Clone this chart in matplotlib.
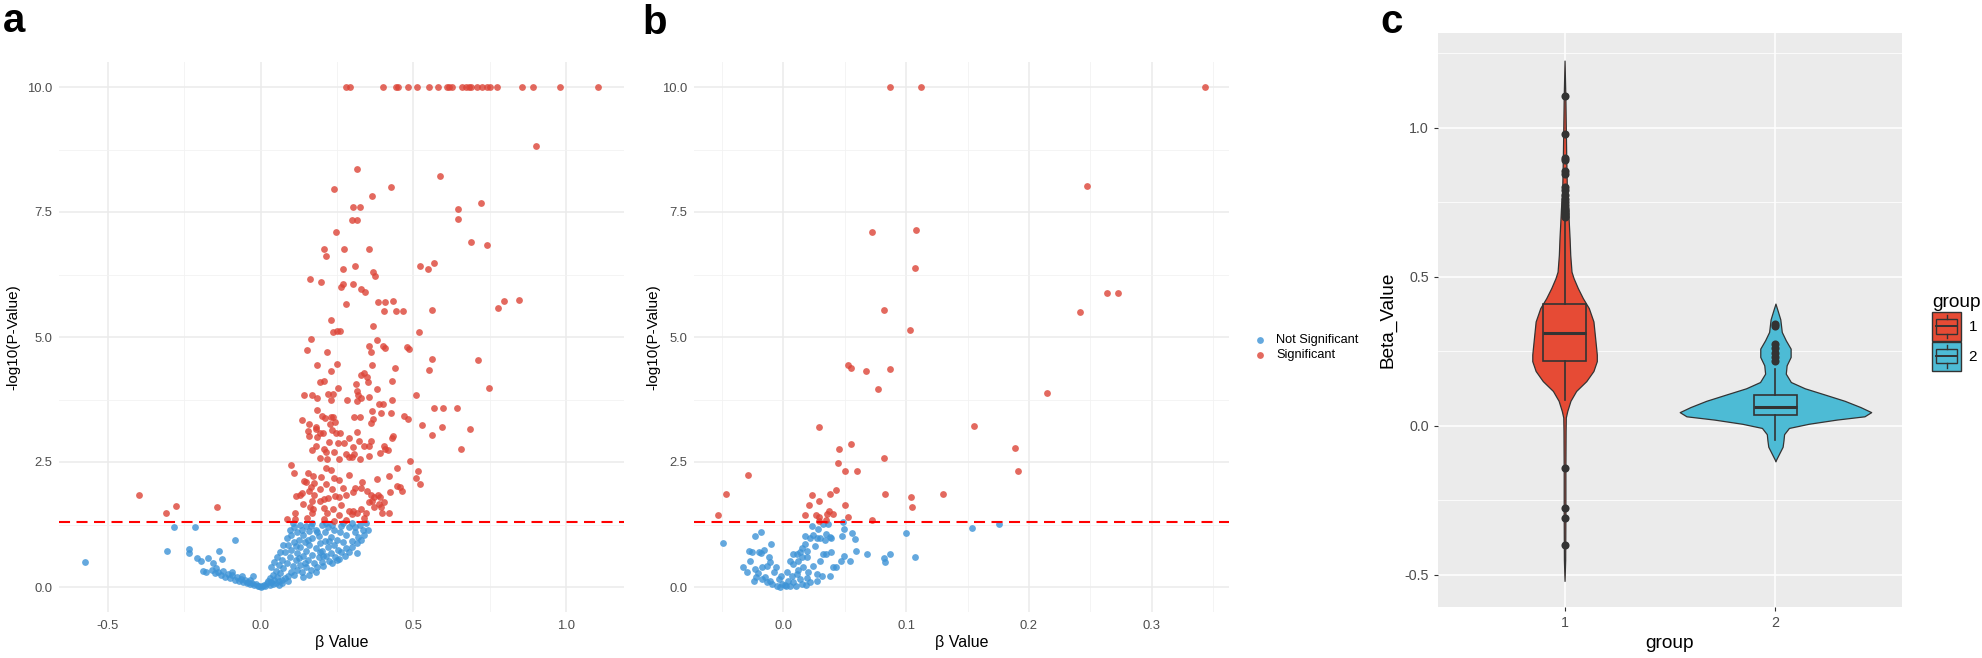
import numpy as np
import matplotlib
matplotlib.use("Agg")
import matplotlib.pyplot as plt
from matplotlib.patches import Patch, Rectangle
from matplotlib.lines import Line2D
from matplotlib.legend_handler import HandlerBase

plt.rcParams["font.family"] = ["Liberation Sans", "DejaVu Sans"]

# ---- panel a: (beta, -log10 p) ----
a_sig = [
    (0.280, 10.0), (0.293, 10.0), (0.402, 10.0), (0.442, 10.0), (0.449, 10.0), (0.483, 10.0), (0.511, 10.0),
    (0.550, 10.0), (0.580, 10.0), (0.610, 10.0), (0.618, 10.0), (0.628, 10.0), (0.660, 10.0), (0.673, 10.0),
    (0.683, 10.0), (0.690, 10.0), (0.708, 10.0), (0.725, 10.0), (0.743, 10.0), (0.752, 10.0), (0.773, 10.0),
    (0.855, 10.0), (0.893, 10.0), (0.979, 10.0), (1.106, 10.0),
    (0.901, 8.83), (0.317, 8.36), (0.588, 8.23), (0.240, 7.97), (0.428, 8.00), (0.364, 7.82), (0.722, 7.69),
    (0.303, 7.61), (0.325, 7.61), (0.645, 7.57), (0.298, 7.35), (0.315, 7.35), (0.645, 7.36), (0.248, 7.10),
    (0.690, 6.91), (0.742, 6.84), (0.208, 6.76), (0.274, 6.76), (0.355, 6.77), (0.215, 6.63), (0.523, 6.42),
    (0.567, 6.49), (0.548, 6.36), (0.270, 6.37), (0.309, 6.43), (0.368, 6.31), (0.375, 6.22), (0.161, 6.16),
    (0.198, 6.11), (0.264, 6.01), (0.269, 6.06), (0.303, 6.06), (0.328, 5.96), (0.342, 5.90), (0.281, 5.66),
    (0.384, 5.70), (0.408, 5.70), (0.435, 5.73), (0.404, 5.52), (0.445, 5.53), (0.466, 5.53), (0.562, 5.55),
    (0.777, 5.59), (0.798, 5.73), (0.847, 5.75), (0.229, 5.35), (0.237, 5.11), (0.249, 5.13), (0.259, 5.13),
    (0.369, 5.22), (0.519, 5.11), (0.165, 4.97), (0.153, 4.74), (0.216, 4.70), (0.380, 4.95), (0.355, 4.82),
    (0.401, 4.82), (0.409, 4.79), (0.361, 4.71), (0.478, 4.80), (0.485, 4.76), (0.561, 4.56), (0.711, 4.55),
    (0.251, 4.47), (0.185, 4.45), (0.231, 4.32), (0.364, 4.44), (0.441, 4.38), (0.551, 4.35), (0.328, 4.24),
    (0.340, 4.28), (0.348, 4.20), (0.351, 4.10), (0.313, 4.07), (0.208, 4.13), (0.194, 4.10), (0.431, 4.12),
    (0.748, 3.99), (0.143, 3.85), (0.169, 3.84), (0.222, 3.86), (0.236, 3.86), (0.253, 3.98), (0.315, 3.93),
    (0.320, 3.84), (0.380, 3.96), (0.185, 3.78), (0.230, 3.74), (0.282, 3.74), (0.315, 3.72), (0.328, 3.78),
    (0.355, 3.81), (0.432, 3.75), (0.510, 3.85), (0.387, 3.67), (0.402, 3.67), (0.185, 3.55), (0.364, 3.52),
    (0.567, 3.58), (0.599, 3.58), (0.642, 3.59), (0.200, 3.43), (0.211, 3.39), (0.230, 3.40), (0.238, 3.41),
    (0.394, 3.48), (0.427, 3.48), (0.307, 3.41), (0.325, 3.41), (0.367, 3.36), (0.471, 3.42), (0.482, 3.37),
    (0.136, 3.34), (0.160, 3.26), (0.182, 3.21), (0.183, 3.17), (0.226, 3.27), (0.245, 3.31), (0.234, 3.15),
    (0.361, 3.29), (0.529, 3.25), (0.594, 3.21), (0.686, 3.17), (0.154, 3.13), (0.194, 3.09), (0.205, 3.09),
    (0.247, 3.09), (0.260, 3.09), (0.317, 3.11), (0.160, 3.02), (0.186, 3.01), (0.289, 2.99), (0.430, 2.98),
    (0.435, 3.02), (0.561, 3.05), (0.225, 2.91), (0.255, 2.88), (0.273, 2.89), (0.322, 2.92), (0.360, 2.92),
    (0.404, 2.83), (0.183, 2.83), (0.304, 2.81), (0.340, 2.82), (0.354, 2.82), (0.167, 2.74), (0.207, 2.76),
    (0.213, 2.71), (0.242, 2.70), (0.281, 2.66), (0.289, 2.60), (0.299, 2.60), (0.307, 2.66), (0.325, 2.57),
    (0.354, 2.62), (0.392, 2.68), (0.409, 2.76), (0.416, 2.75), (0.657, 2.77), (0.194, 2.58), (0.219, 2.57),
    (0.256, 2.57), (0.488, 2.53), (0.099, 2.44), (0.110, 2.29), (0.213, 2.38), (0.229, 2.34), (0.289, 2.25),
    (0.333, 2.11), (0.380, 2.17), (0.448, 2.39), (0.514, 2.32), (0.510, 2.19), (0.523, 2.07), (0.419, 2.23),
    (0.448, 2.02), (0.456, 2.01), (0.463, 1.93), (0.154, 2.29), (0.171, 2.23), (0.197, 2.21), (0.149, 2.11),
    (0.142, 2.12), (0.176, 2.09), (0.242, 2.18), (0.256, 2.15), (0.164, 2.01), (0.215, 2.06), (0.270, 1.98),
    (0.309, 1.98), (0.328, 1.98), (0.157, 1.92), (0.194, 1.96), (0.234, 1.96), (0.280, 1.85), (0.128, 1.85),
    (0.136, 1.88), (0.117, 1.82), (0.174, 1.85), (0.209, 1.77), (0.220, 1.78), (0.245, 1.82), (0.256, 1.80),
    (0.304, 1.91), (0.347, 1.92), (0.362, 1.84), (0.372, 1.81), (0.383, 1.84), (0.392, 1.81), (0.423, 1.91),
    (0.405, 1.70), (0.354, 1.70), (0.365, 1.73), (0.387, 1.67), (0.263, 1.64), (0.193, 1.73), (0.167, 1.73),
    (0.140, 1.67), (0.161, 1.61), (0.171, 1.57), (0.207, 1.59), (0.236, 1.57), (0.288, 1.52), (0.304, 1.53),
    (0.315, 1.48), (0.329, 1.56), (0.346, 1.49), (0.372, 1.61), (0.394, 1.61), (0.420, 1.49), (0.399, 1.48),
    (0.112, 1.48), (0.169, 1.48), (0.218, 1.48), (0.258, 1.44), (0.299, 1.46), (0.085, 1.37), (0.112, 1.37),
    (0.153, 1.38), (0.208, 1.37), (0.242, 1.32), (0.280, 1.35), (0.339, 1.38),
    (-0.399, 1.84), (-0.311, 1.48), (-0.277, 1.63), (-0.143, 1.61),
]

a_ns = [
    (-0.576, 0.51), (-0.307, 0.73), (-0.282, 1.20), (-0.215, 1.20), (-0.234, 0.77), (-0.234, 0.68),
    (-0.207, 0.59), (-0.194, 0.53), (-0.187, 0.32), (-0.178, 0.30), (-0.171, 0.59), (-0.157, 0.49),
    (-0.135, 0.73), (-0.127, 0.56), (-0.083, 0.94), (-0.026, 0.22),
    (-0.160, 0.35), (-0.150, 0.28), (-0.140, 0.30), (-0.130, 0.25), (-0.122, 0.33), (-0.115, 0.20),
    (-0.108, 0.27), (-0.100, 0.18), (-0.092, 0.24), (-0.085, 0.15), (-0.078, 0.20), (-0.070, 0.12),
    (-0.064, 0.17), (-0.058, 0.10), (-0.052, 0.14), (-0.046, 0.08), (-0.040, 0.11), (-0.034, 0.06),
    (-0.028, 0.09), (-0.022, 0.04), (-0.016, 0.06), (-0.010, 0.02), (-0.005, 0.03), (0.000, 0.00),
    (-0.145, 0.38), (-0.095, 0.30), (-0.060, 0.22), (-0.035, 0.15),
    (0.005, 0.02), (0.010, 0.05), (0.015, 0.03), (0.020, 0.08), (0.025, 0.12), (0.030, 0.05),
    (0.030, 0.18), (0.035, 0.10), (0.040, 0.25), (0.040, 0.07), (0.045, 0.15), (0.050, 0.32),
    (0.050, 0.09), (0.055, 0.20), (0.060, 0.45), (0.060, 0.12), (0.065, 0.28), (0.070, 0.55),
    (0.070, 0.15), (0.075, 0.38), (0.080, 0.70), (0.080, 0.18), (0.085, 0.48), (0.090, 0.85),
    (0.090, 0.22), (0.095, 0.60), (0.100, 1.05), (0.100, 0.30), (0.100, 0.75), (0.105, 0.42),
    (0.110, 1.20), (0.110, 0.90), (0.110, 0.25), (0.115, 0.55), (0.120, 1.10), (0.120, 0.68),
    (0.120, 0.35), (0.125, 0.95), (0.130, 1.25), (0.130, 0.45), (0.130, 0.80), (0.135, 0.30),
    (0.140, 1.05), (0.140, 0.62), (0.145, 0.90), (0.150, 1.22), (0.150, 0.40), (0.150, 0.72),
    (0.155, 0.55), (0.160, 1.12), (0.160, 0.85), (0.165, 0.35), (0.170, 1.28), (0.170, 0.65),
    (0.170, 0.98), (0.175, 0.48), (0.180, 1.15), (0.180, 0.78), (0.185, 0.40), (0.190, 1.02),
    (0.190, 0.60), (0.195, 0.88), (0.200, 1.25), (0.200, 0.50), (0.200, 0.72), (0.205, 0.42),
    (0.210, 1.10), (0.210, 0.92), (0.215, 0.62), (0.220, 1.20), (0.220, 0.80), (0.225, 0.52),
    (0.230, 1.00), (0.230, 0.68), (0.235, 0.48), (0.240, 1.15), (0.240, 0.85), (0.245, 0.60),
    (0.250, 0.95), (0.250, 0.55), (0.255, 0.75), (0.256, 0.57), (0.260, 1.10), (0.265, 0.70),
    (0.270, 0.90), (0.275, 0.62), (0.280, 1.05), (0.280, 0.78), (0.290, 1.20), (0.290, 0.70),
    (0.300, 0.92), (0.300, 0.80), (0.310, 1.10), (0.315, 0.88), (0.317, 0.69), (0.320, 1.00),
    (0.325, 1.25), (0.330, 0.95), (0.335, 1.15), (0.340, 1.05), (0.345, 1.28), (0.353, 1.15),
    (0.085, 0.98), (0.075, 0.85), (0.065, 0.70), (0.055, 0.60), (0.045, 0.50), (0.035, 0.40),
    (0.060, 0.05), (0.070, 0.08), (0.090, 0.12), (0.140, 0.20), (0.160, 0.25), (0.180, 0.30),
    (0.095, 1.15), (0.105, 1.28), (0.135, 1.15), (0.165, 1.22), (0.185, 1.10), (0.215, 1.28),
    (0.235, 1.25), (0.265, 1.22), (0.300, 1.28), (0.310, 1.20), (0.270, 1.28), (0.125, 0.58),
    (0.145, 0.48), (0.205, 0.62), (0.225, 0.92), (0.195, 0.70), (0.155, 0.95), (0.115, 0.82),
]

# ---- panel b: (beta, -log10 p) ----
b_sig = [
    (0.0871, 10.0), (0.1118, 10.0), (0.3432, 10.0), (0.2471, 8.02), (0.0721, 7.11), (0.1080, 7.15),
    (0.1069, 6.39), (0.2639, 5.89), (0.2729, 5.89), (0.0822, 5.54), (0.2419, 5.50), (0.1032, 5.14),
    (0.0527, 4.44), (0.0550, 4.38), (0.0669, 4.32), (0.0871, 4.36), (0.0770, 3.96), (0.2150, 3.89),
    (0.0292, 3.21), (0.1551, 3.22), (0.0550, 2.87), (0.0452, 2.77), (0.1888, 2.78), (0.0822, 2.58),
    (0.0441, 2.49), (0.0501, 2.33), (0.0598, 2.32), (0.1910, 2.32), (-0.0292, 2.24), (-0.0471, 1.86),
    (0.0378, 1.86), (0.0426, 1.95), (0.0826, 1.86), (0.1297, 1.86), (0.1039, 1.81), (0.0232, 1.84),
    (0.0288, 1.72), (0.0209, 1.64), (0.0501, 1.64), (0.1050, 1.61), (-0.0531, 1.45), (0.0179, 1.45),
    (0.0269, 1.45), (0.0292, 1.40), (0.0374, 1.52), (0.0355, 1.46), (0.0407, 1.46), (0.0527, 1.41),
    (0.0348, 1.35), (0.0292, 1.32), (0.0721, 1.35),
]

b_ns = [
    (-0.049, 0.89), (-0.0235, 1.03), (-0.018, 1.11), (-0.010, 0.87), (-0.028, 0.73), (-0.026, 0.70),
    (-0.020, 0.70), (-0.018, 0.68), (-0.016, 0.74), (-0.027, 0.52), (-0.033, 0.40), (-0.030, 0.30),
    (-0.0235, 0.36), (-0.022, 0.20), (-0.0176, 0.40), (-0.0135, 0.43), (-0.012, 0.60), (-0.011, 0.50),
    (-0.006, 0.40), (-0.015, 0.20), (-0.011, 0.13), (-0.008, 0.30), (-0.004, 0.17), (-0.001, 0.07),
    (0.001, 0.05), (0.004, 0.13), (0.007, 0.23), (0.005, 0.53), (0.008, 0.46), (0.011, 0.66),
    (0.0135, 0.70), (0.015, 0.79), (0.0176, 1.03), (0.0216, 0.99), (0.024, 1.05), (0.023, 1.23),
    (0.027, 0.99), (0.028, 1.16), (0.032, 1.26), (0.036, 1.27), (0.038, 1.01), (0.0346, 1.07),
    (0.026, 0.83), (0.032, 0.66), (0.035, 0.66), (0.039, 0.70), (0.030, 0.53), (0.019, 0.60),
    (0.016, 0.40), (0.020, 0.30), (0.024, 0.43), (0.027, 0.26), (0.031, 0.23), (0.038, 0.23),
    (0.0405, 0.40), (0.0424, 0.40), (0.011, 0.26), (0.0135, 0.17), (0.008, 0.10), (0.015, 0.07),
    (0.022, 0.10), (0.027, 0.13), (0.0054, 0.03), (-0.005, 0.03), (-0.0095, 0.07), (-0.0135, 0.10),
    (-0.0176, 0.17), (-0.021, 0.28), (-0.024, 0.13), (0.008, 0.66), (0.012, 0.53), (0.015, 0.60),
    (0.019, 0.73), (0.0176, 0.86), (0.030, 0.99), (0.034, 0.94), (0.039, 0.99), (0.048, 1.03),
    (0.0486, 1.30), (0.049, 1.16), (0.056, 1.09), (0.058, 0.96), (0.047, 0.53), (0.049, 0.63),
    (0.054, 0.53), (0.059, 0.73), (0.068, 0.66), (0.082, 0.58), (0.083, 0.50), (0.087, 0.66),
    (0.100, 1.09), (0.107, 0.61), (0.154, 1.18), (0.176, 1.27), (0.002, 0.02), (0.010, 0.02),
    (0.018, 0.05), (-0.003, 0.01), (0.012, 0.35), (0.003, 0.30), (-0.002, 0.22), (0.019, 0.18),
]

# ---- panel c: violin outlines (value, half width), box stats, outliers ----
groups = ["1", "2"]
group_colors = ["#E64B35", "#4DBBD5"]
violin_y = [
    [1.225, 1.10, 0.995, 0.90, 0.795, 0.728, 0.684, 0.628, 0.573, 0.517, 0.495, 0.462, 0.428, 0.395,
     0.350, 0.295, 0.239, 0.217, 0.184, 0.150, 0.117, 0.084, 0.050, 0.028, -0.017, -0.15, -0.30,
     -0.45, -0.52],
    [0.41, 0.385, 0.357, 0.315, 0.287, 0.259, 0.231, 0.203, 0.175, 0.147, 0.126, 0.105, 0.084, 0.063,
     0.046, 0.032, 0.021, 0.007, -0.007, -0.028, -0.049, -0.070, -0.091, -0.112, -0.119],
]
violin_hw = [
    [0.0, 0.004, 0.006, 0.008, 0.011, 0.017, 0.020, 0.024, 0.027, 0.033, 0.043, 0.063, 0.087, 0.115,
     0.137, 0.145, 0.153, 0.153, 0.137, 0.103, 0.055, 0.028, 0.013, 0.006, 0.005, 0.004, 0.004,
     0.003, 0.0],
    [0.0, 0.011, 0.023, 0.030, 0.049, 0.072, 0.072, 0.053, 0.049, 0.073, 0.139, 0.234, 0.328, 0.403,
     0.454, 0.422, 0.290, 0.158, 0.064, 0.041, 0.038, 0.034, 0.019, 0.004, 0.0],
]
box_q1 = [0.219, 0.038]
box_med = [0.311, 0.063]
box_q3 = [0.410, 0.105]
box_lo = [0.086, -0.049]
box_hi = [0.689, 0.189]
outliers = [
    [1.105, 0.978, 0.898, 0.890, 0.855, 0.845, 0.800, 0.790, 0.775, 0.760, 0.750, 0.740, 0.730,
     0.725, 0.720, 0.715, 0.710, 0.705, 0.700, -0.143, -0.275, -0.310, -0.398],
    [0.343, 0.336, 0.276, 0.262, 0.245, 0.231, 0.217],
]

RED = "#DC4437"
BLUE = "#3D93D6"
W, H = 1983, 658


def px_box(l, t, r, b):
    return [l / W, 1 - b / H, (r - l) / W, (b - t) / H]


def volcano(ax, sig, ns, xmaj, xmin_, xlabels):
    xs = [p[0] for p in sig + ns]
    span = max(xs) - min(xs)
    ax.set_xlim(min(xs) - 0.05 * span, max(xs) + 0.05 * span)
    ax.set_ylim(-0.5, 10.5)
    ax.set_xticks(xmaj)
    ax.set_xticklabels(xlabels)
    ax.set_xticks(xmin_, minor=True)
    ax.set_yticks([0, 2.5, 5, 7.5, 10])
    ax.set_yticklabels(["0.0", "2.5", "5.0", "7.5", "10.0"])
    ax.set_yticks([1.25, 3.75, 6.25, 8.75], minor=True)
    ax.grid(True, which="major", color="#EBEBEB", lw=1.1)
    ax.grid(True, which="minor", color="#F2F2F2", lw=0.6)
    ax.set_axisbelow(True)
    for s in ax.spines.values():
        s.set_visible(False)
    ax.tick_params(which="both", length=0, labelsize=9.4, labelcolor="#4D4D4D")
    ax.tick_params(axis="x", pad=6.0)
    ax.tick_params(axis="y", pad=5.0)
    ax.scatter([p[0] for p in ns], [p[1] for p in ns], s=24, color=BLUE, alpha=0.8,
               lw=0, label="Not Significant", zorder=2)
    ax.scatter([p[0] for p in sig], [p[1] for p in sig], s=24, color=RED, alpha=0.8,
               lw=0, label="Significant", zorder=3)
    ax.axhline(-np.log10(0.05), color="#FF0000", lw=1.5, ls=(0, (5.3, 3.1)), zorder=4)


class ViolinBoxKey(HandlerBase):
    def create_artists(self, legend, orig, xd, yd, w, h, fontsize, trans):
        x0, y0 = -xd, -yd
        ec = "#333333"
        return [
            Rectangle((x0, y0), w, h, facecolor=orig.get_facecolor(), edgecolor=ec, lw=1.0, transform=trans),
            Rectangle((x0 + 0.125 * w, y0 + 0.25 * h), 0.75 * w, 0.5 * h, fill=False, edgecolor=ec,
                      lw=1.0, transform=trans),
            Line2D([x0 + 0.125 * w, x0 + 0.875 * w], [y0 + 0.5 * h] * 2, color=ec, lw=1.4, transform=trans),
            Line2D([x0 + 0.5 * w] * 2, [y0 + 0.75 * h, y0 + 0.9 * h], color=ec, lw=1.0, transform=trans),
            Line2D([x0 + 0.5 * w] * 2, [y0 + 0.1 * h, y0 + 0.25 * h], color=ec, lw=1.0, transform=trans),
        ]


fig = plt.figure(figsize=(W / 100, H / 100), dpi=100)

# panel a
ax_a = fig.add_axes(px_box(59, 62, 624, 612))
volcano(ax_a, a_sig, a_ns, [-0.5, 0.0, 0.5, 1.0], [-0.25, 0.25, 0.75],
        ["-0.5", "0.0", "0.5", "1.0"])
fig.text(13 / W, 1 - 337 / H, "-log10(P-Value)", rotation=90, ha="center", va="center", fontsize=11)
fig.text(341.5 / W, 1 - 643 / H, "β Value", ha="center", va="center", fontsize=11.5)
fig.text(3 / W, 1 - 32 / H, "a", fontsize=29, fontweight="bold", ha="left", va="baseline")

# panel b
ax_b = fig.add_axes(px_box(694, 62, 1229, 612))
volcano(ax_b, b_sig, b_ns, [0.0, 0.1, 0.2, 0.3], [-0.05, 0.05, 0.15, 0.25, 0.35],
        ["0.0", "0.1", "0.2", "0.3"])
fig.text(653 / W, 1 - 337 / H, "-log10(P-Value)", rotation=90, ha="center", va="center", fontsize=11)
fig.text(961.5 / W, 1 - 643 / H, "β Value", ha="center", va="center", fontsize=11.5)
fig.text(642 / W, 1 - 34 / H, "b", fontsize=29, fontweight="bold", ha="left", va="baseline")
ax_b.legend(loc="center left", bbox_to_anchor=(1253.6 / W, 1 - 347.5 / H),
            bbox_transform=fig.transFigure, frameon=False, fontsize=9.2, handlelength=1.0,
            handletextpad=0.75, labelspacing=0.25, borderpad=0, borderaxespad=0,
            scatterpoints=1)

# panel c
ax_c = fig.add_axes(px_box(1438, 33, 1902, 607))
ax_c.set_facecolor("#EBEBEB")
for s in ax_c.spines.values():
    s.set_visible(False)
pos = np.arange(1, len(groups) + 1)
for p, yv, hw, col in zip(pos, violin_y, violin_hw, group_colors):
    yv = np.array(yv)
    hw = np.array(hw)
    ax_c.fill_betweenx(yv, p - hw, p + hw, facecolor=col, edgecolor="#333333", lw=0.9, zorder=2)
stats = []
for i in range(len(groups)):
    stats.append(dict(med=box_med[i], q1=box_q1[i], q3=box_q3[i], whislo=box_lo[i],
                      whishi=box_hi[i], fliers=[]))
res = ax_c.bxp(stats, positions=pos, widths=0.2, showfliers=False, showcaps=False,
               patch_artist=True,
               boxprops=dict(edgecolor="#333333", lw=1.2),
               medianprops=dict(color="#333333", lw=2.2),
               whiskerprops=dict(color="#333333", lw=1.2), zorder=3)
for patch, col in zip(res["boxes"], group_colors):
    patch.set_facecolor(col)
for p, out in zip(pos, outliers):
    ax_c.scatter(np.full(len(out), p), out, s=34, color="#333333", lw=0, zorder=4)

ax_c.set_xlim(0.4, 2.6)
ax_c.set_ylim(-0.6075, 1.3175)
ax_c.set_xticks(pos)
ax_c.set_xticklabels(groups)
ax_c.set_yticks([-0.5, 0.0, 0.5, 1.0])
ax_c.set_yticklabels(["-0.5", "0.0", "0.5", "1.0"])
ax_c.set_yticks([-0.25, 0.25, 0.75, 1.25], minor=True)
ax_c.grid(True, which="major", color="white", lw=1.1)
ax_c.grid(True, which="minor", axis="y", color="white", lw=0.55)
ax_c.set_axisbelow(True)
ax_c.tick_params(which="major", length=2.9, width=0.8, color="#333333", labelsize=10.3,
                 labelcolor="#4D4D4D", pad=3.5)
ax_c.tick_params(which="minor", length=0)
fig.text(1388 / W, 1 - 320 / H, "Beta_Value", rotation=90, ha="center", va="center", fontsize=13.7)
fig.text(1670 / W, 1 - 644 / H, "group", ha="center", va="center", fontsize=13.7)
fig.text(1380 / W, 1 - 33 / H, "c", fontsize=29, fontweight="bold", ha="left", va="baseline")

handles = [Patch(facecolor=c) for c in group_colors]
ax_c.legend(handles, groups, title="group", loc="upper left",
            bbox_to_anchor=(1932 / W, 1 - 294 / H), bbox_transform=fig.transFigure,
            frameon=False, fontsize=11, title_fontsize=13.7, handlelength=1.9,
            handleheight=2.55, handletextpad=0.5, labelspacing=0.05, borderpad=0,
            borderaxespad=0, alignment="left",
            handler_map={Patch: ViolinBoxKey()})

fig.savefig("out.png", dpi=100)
